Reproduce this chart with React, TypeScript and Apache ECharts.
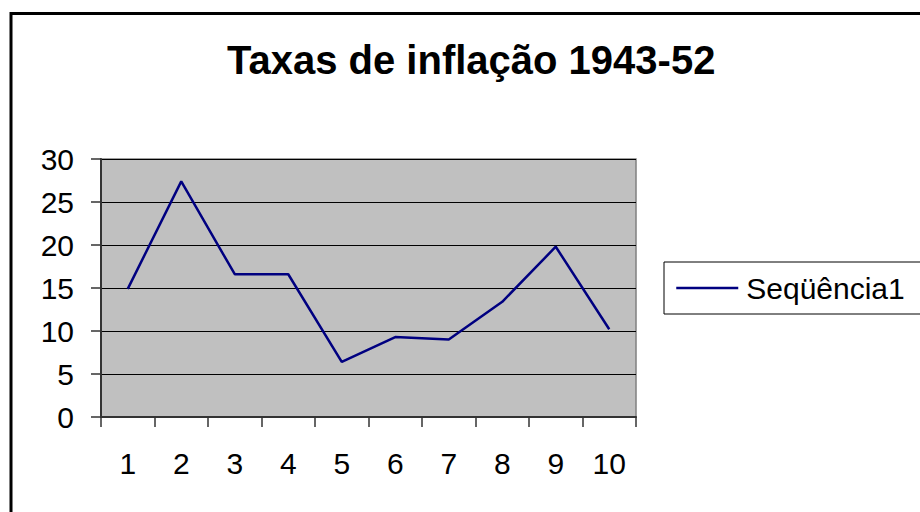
import React, { useEffect, useRef } from "react";
import * as echarts from "echarts";

const title = "Taxas de inflação 1943-52";
const categories = ["1", "2", "3", "4", "5", "6", "7", "8", "9", "10"];
const seriesName = "Seqüência1";
const values = [14.9, 27.4, 16.6, 16.6, 6.4, 9.3, 9.0, 13.4, 19.8, 10.2];
const yMin = 0;
const yMax = 30;
const yStep = 5;

const FONT = "'Liberation Sans', Arial, sans-serif";

export default function App() {
  const ref = useRef<HTMLDivElement>(null);
  useEffect(() => {
    if (!ref.current) return;
    const chart = echarts.init(ref.current, null, { renderer: "svg" });
    chart.setOption({
      animation: false,
      backgroundColor: "#ffffff",
      textStyle: { fontFamily: FONT },
      title: {
        text: title,
        left: 227,
        top: 40,
        padding: 0,
        textStyle: { fontSize: 40, fontWeight: "bold", color: "#000", fontFamily: FONT },
      },
      grid: {
        left: 101,
        top: 159,
        width: 535,
        height: 258,
        show: true,
        backgroundColor: "#C0C0C0",
        borderColor: "#808080",
        borderWidth: 1.5,
      },
      legend: {
        left: 664,
        top: 262,
        orient: "horizontal",
        padding: [11, 40, 11, 11],
        borderColor: "#000",
        borderWidth: 1,
        itemWidth: 62,
        itemHeight: 20,
        itemStyle: { opacity: 0 },
        lineStyle: { color: "#000080", width: 2.5, opacity: 1 },
        textStyle: { fontSize: 30, color: "#000", fontFamily: FONT, padding: [0, 0, 0, 3] },
        data: [{ name: seriesName }],
      },
      xAxis: {
        type: "category",
        data: categories,
        axisLine: { show: true, lineStyle: { color: "#333", width: 2 } },
        axisTick: { show: true, length: 10, lineStyle: { color: "#333", width: 1.5 } },
        axisLabel: { fontSize: 30, color: "#000", margin: 31, fontFamily: FONT },
        splitLine: { show: false },
      },
      yAxis: {
        type: "value",
        min: yMin,
        max: yMax,
        interval: yStep,
        axisLine: { show: true, lineStyle: { color: "#333", width: 2 } },
        axisTick: { show: true, length: 10, lineStyle: { color: "#333", width: 1.5 } },
        axisLabel: { fontSize: 30, color: "#000", margin: 27, fontFamily: FONT },
        splitLine: { show: true, lineStyle: { color: "#000", width: 1 } },
      },
      series: [
        {
          name: seriesName,
          type: "line",
          data: values,
          symbol: "none",
          showSymbol: false,
          lineStyle: { color: "#000080", width: 2.5 },
          itemStyle: { color: "#000080" },
        },
      ],
      graphic: [
        {
          type: "rect",
          shape: { x: 11, y: 13.5, width: 1000, height: 600 },
          style: { fill: "none", stroke: "#000", lineWidth: 3 },
          silent: true,
          z: 100,
        },
      ],
    });
    return () => chart.dispose();
  }, []);
  return (
    <div
      ref={ref}
      style={{ position: "fixed", left: 0, top: 0, width: 920, height: 512 }}
    />
  );
}
